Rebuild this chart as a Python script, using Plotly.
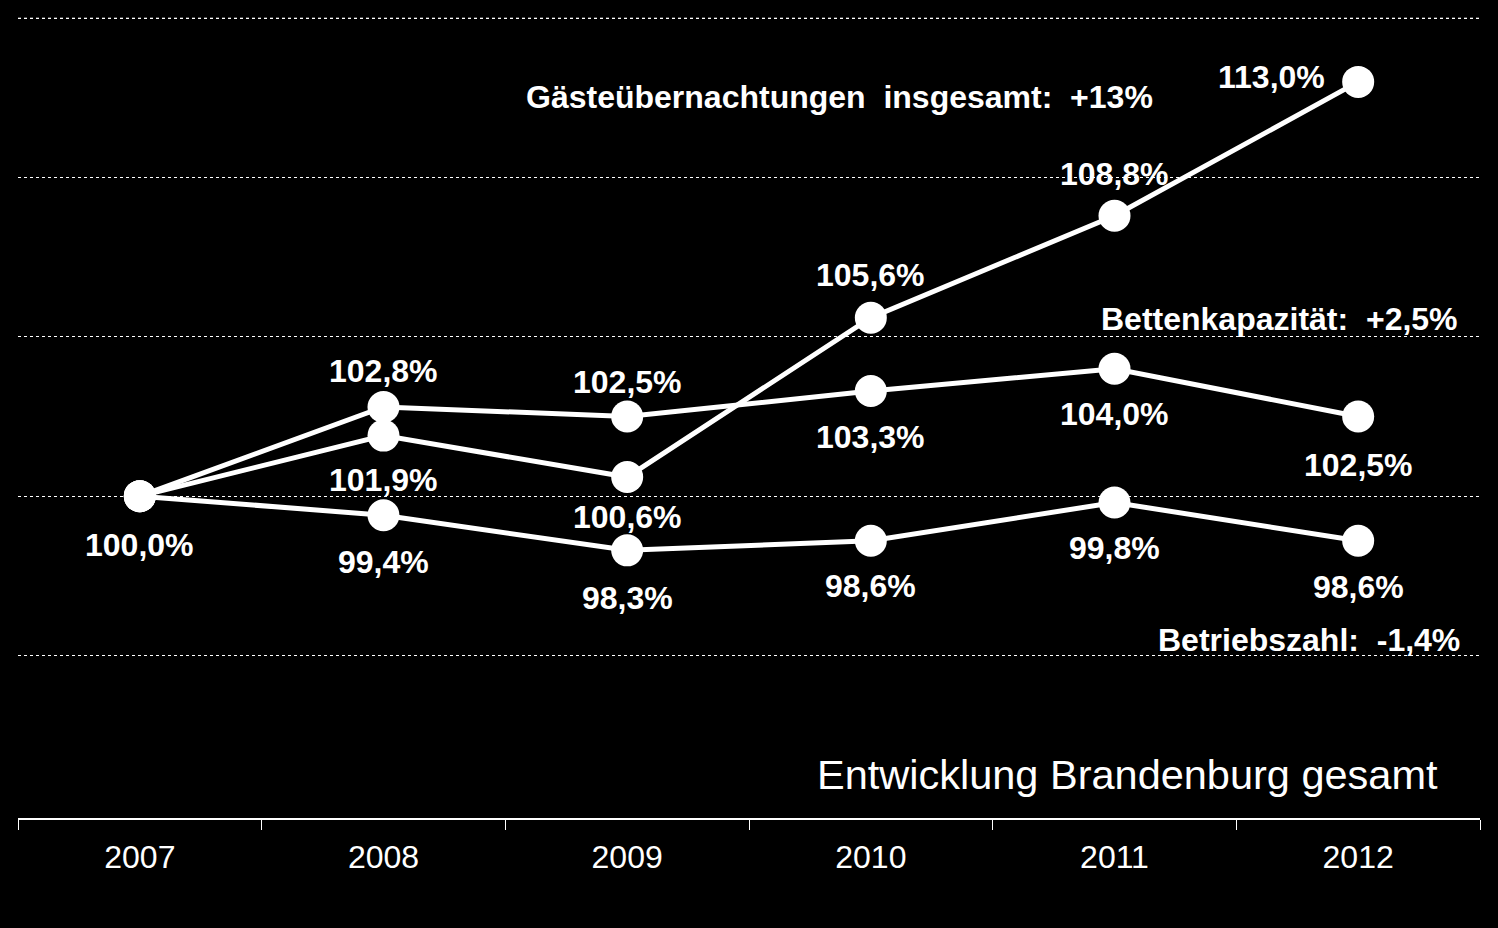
import plotly.graph_objects as go

years = ["2007", "2008", "2009", "2010", "2011", "2012"]
gaeste = [100.0, 101.9, 100.6, 105.6, 108.8, 113.0]
betten = [100.0, 102.8, 102.5, 103.3, 104.0, 102.5]
betrieb = [100.0, 99.4, 98.3, 98.6, 99.8, 98.6]
grid_vals = [95, 100, 105, 110, 115]

# label offsets (pixels) for data labels: (xshift, yshift); None = no label
gaeste_off = [(0, -49), (0, -44), (0, -40), (0, 43), (0, 42), (-87, 5)]
betten_off = [None, (0, 36), (0, 35), (0, -46), (0, -45), (0, -48)]
betrieb_off = [None, (0, -47), (0, -48), (0, -45), (0, -45), (0, -46)]

FONT = "Arial, Liberation Sans, sans-serif"

fig = go.Figure()
for vals in (gaeste, betten, betrieb):
    fig.add_trace(go.Scatter(
        x=years, y=vals, mode="lines+markers",
        line=dict(color="white", width=5),
        marker=dict(color="white", size=32),
        showlegend=False, hoverinfo="skip",
    ))

def fmt(v):
    return f"{v:.1f}".replace(".", ",") + "%"

annotations = []
for vals, offs in ((gaeste, gaeste_off), (betten, betten_off), (betrieb, betrieb_off)):
    for i, (v, off) in enumerate(zip(vals, offs)):
        if off is None:
            continue
        annotations.append(dict(
            x=i, y=v, xref="x", yref="y", text=fmt(v), showarrow=False,
            xshift=off[0], yshift=off[1],
            font=dict(family=FONT, size=32, color="white", weight="bold"),
        ))

NB = "\u00a0"
series_labels = [
    ("Gästeübernachtungen" + NB + " insgesamt:" + NB + " +13%", 0.7777, 112.52),
    ("Bettenkapazität:" + NB + " +2,5%", 0.9863, 105.56),
    ("Betriebszahl:" + NB + " -1,4%", 0.9877, 95.48),
]
for txt, xp, yv in series_labels:
    annotations.append(dict(
        x=xp, y=yv, xref="paper", yref="y", text=txt, showarrow=False,
        xanchor="right", yanchor="middle",
        font=dict(family=FONT, size=32, color="white", weight="bold"),
    ))

annotations.append(dict(
    x=0.9726, y=91.25, xref="paper", yref="y", text="Entwicklung Brandenburg gesamt",
    showarrow=False, xanchor="right", yanchor="middle",
    font=dict(family=FONT, size=41.5, color="white"),
))

# top gridline (at the upper edge of the plot area)
shapes = [dict(type="line", xref="paper", yref="y", x0=0, x1=1, y0=grid_vals[-1], y1=grid_vals[-1],
               line=dict(color="white", width=1, dash="dot"), layer="below")]

fig.update_layout(
    width=1498, height=928,
    paper_bgcolor="black", plot_bgcolor="black",
    margin=dict(l=18, r=18, t=15, b=110),
    annotations=annotations,
    shapes=shapes,
    xaxis=dict(
        type="category", range=[-0.5, 5.5],
        tickson="boundaries", ticks="outside", ticklen=10, tickcolor="white", tickwidth=1,
        showline=True, linecolor="white", linewidth=1.5,
        showgrid=False, zeroline=False, ticklabelstandoff=10,
        tickfont=dict(family=FONT, size=32, color="white"),
    ),
    yaxis=dict(
        range=[89.9, 115.1], tickvals=grid_vals,
        showticklabels=False, showgrid=True, gridcolor="white", gridwidth=1,
        griddash="dot", zeroline=False, showline=False,
    ),
)

fig.write_html("out.html", config={"displayModeBar": False},
               post_script="document.body.style.margin='0';document.body.style.background='black';")
